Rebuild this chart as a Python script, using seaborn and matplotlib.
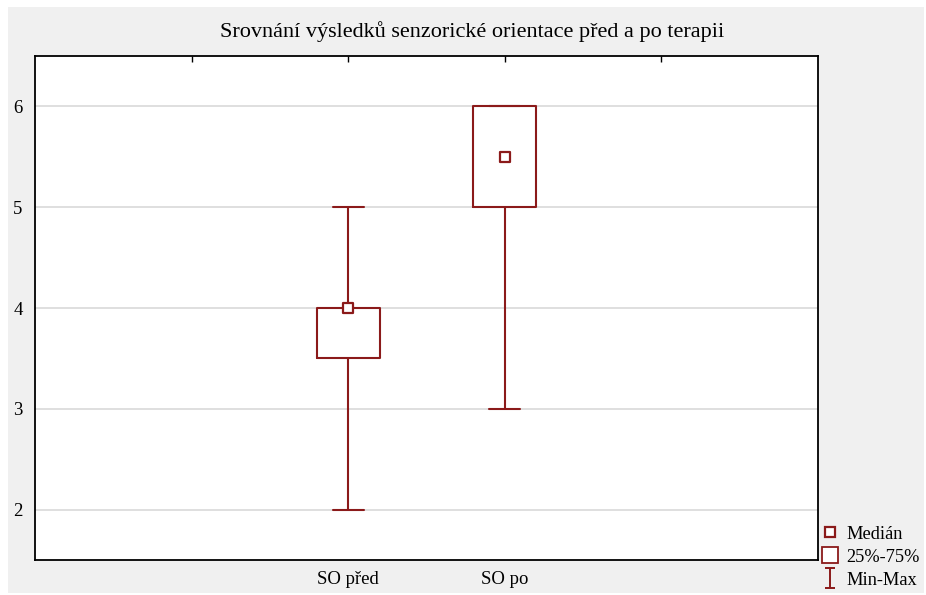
import numpy as np
import pandas as pd
import matplotlib
matplotlib.use("Agg")
import matplotlib.pyplot as plt
from matplotlib.lines import Line2D
from matplotlib.path import Path
from matplotlib.patches import Rectangle
import seaborn as sns

# -------------------------------
# Data (five-number summary per group)
# -------------------------------
groups = ["SO před", "SO po"]
positions = [2, 3]
mins = [2.0, 3.0]
q1s = [3.5, 5.0]
medians = [4.0, 5.5]
q3s = [4.0, 6.0]
maxs = [5.0, 6.0]

title = "Srovnání výsledků senzorické orientace před a po terapii"
legend_labels = ["Medián", "25%-75%", "Min-Max"]

red = "#8b1a1a"

# summary values as data points -> linear percentiles give q1/median/q3 exactly
rows = []
for pos, a, b, c, d, e in zip(positions, mins, q1s, medians, q3s, maxs):
    for v in (a, b, c, d, e):
        rows.append({"pos": pos, "value": v})
df = pd.DataFrame(rows)

# -------------------------------
# Style
# -------------------------------
sns.set_style("white")
plt.rcParams["font.family"] = ["Liberation Serif", "DejaVu Serif"]
plt.rcParams["xtick.direction"] = "in"
plt.rcParams["ytick.direction"] = "in"
plt.rcParams["text.color"] = "black"
plt.rcParams["xtick.color"] = "black"
plt.rcParams["ytick.color"] = "black"

fig = plt.figure(figsize=(9.26, 5.95), dpi=100, facecolor="white")
# gray panel with thin white border like the original export
fig.patches.append(Rectangle((8 / 926, 2 / 595), 916 / 926, 586 / 595,
                             transform=fig.transFigure, facecolor="#f0f0f0",
                             edgecolor="none", zorder=-10))

ax = fig.add_axes([0.0378, 0.0588, 0.8456, 0.8471])
ax.set_facecolor("white")

sns.boxplot(
    data=df, x="pos", y="value", native_scale=True,
    width=0.4, whis=(0, 100), fill=False, color=red,
    linewidth=1.5, showfliers=False,
    medianprops={"visible": False},
    ax=ax,
)

sns.scatterplot(
    x=positions, y=medians, marker="s", s=60,
    facecolor="white", edgecolor=red, linewidth=1.6,
    zorder=5, ax=ax,
)

# -------------------------------
# Axes
# -------------------------------
ax.set_xlim(0, 5)
ax.set_ylim(1.5, 6.5)
ax.set_xticks([1, 2, 3, 4])
ax.set_xticklabels([""] + groups + [""])
ax.set_yticks([2, 3, 4, 5, 6])
ax.tick_params(axis="both", length=4, width=1, labelsize=13.5,
               top=True, right=False, colors="black")
ax.tick_params(axis="x", pad=8)
ax.tick_params(axis="y", pad=9)
ax.set_xlabel("")
ax.set_ylabel("")
ax.yaxis.grid(True, color="#d9d9d9", linewidth=1.2)
ax.set_axisbelow(True)
for s in ax.spines.values():
    s.set_color("black")
    s.set_linewidth(1.3)

# title is centred a bit right of the plot box in the original
fig.text(472 / 926, 1 - 32 / 595, title, fontsize=16,
         ha="center", va="center", color="black")

# -------------------------------
# Legend
# -------------------------------
ibeam = Path(
    [(-0.5, 1), (0.5, 1), (0, 1), (0, -1), (-0.5, -1), (0.5, -1)],
    [Path.MOVETO, Path.LINETO, Path.MOVETO, Path.LINETO, Path.MOVETO, Path.LINETO],
)
handles = [
    Line2D([], [], ls="", marker="s", ms=7, mfc="white", mec=red, mew=1.6),
    Line2D([], [], ls="", marker="s", ms=12, mfc="white", mec=red, mew=1.3),
    Line2D([], [], ls="", marker=ibeam, ms=15, mfc="none", mec=red, mew=1.4),
]
fig.legend(handles, legend_labels, loc="lower left",
           bbox_to_anchor=(0.871, -0.017), frameon=False, fontsize=13.2,
           handlelength=0.8, handletextpad=0.45, labelspacing=0.32)

plt.savefig("out.png", dpi=100, facecolor=fig.get_facecolor())
plt.close()
